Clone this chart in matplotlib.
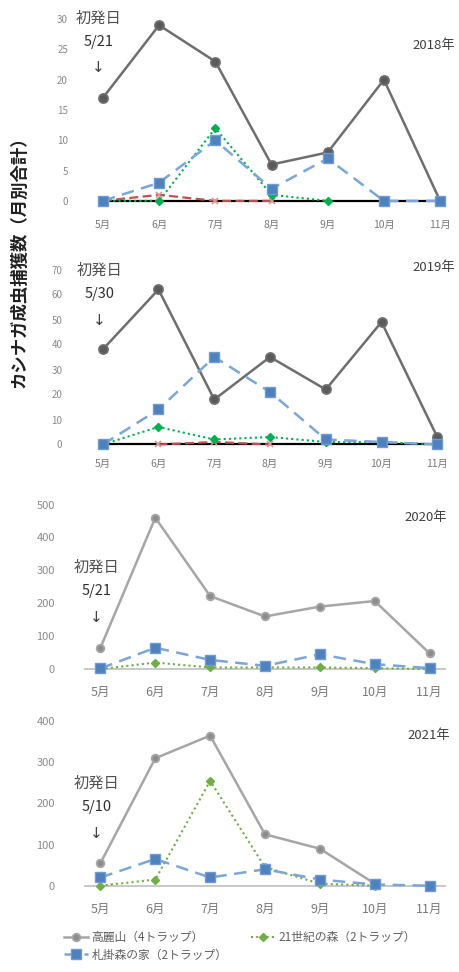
import numpy as np
import matplotlib.pyplot as plt

plt.rcParams['font.family'] = ['Noto Sans CJK JP', 'DejaVu Sans']

months = ['5月', '6月', '7月', '8月', '9月', '10月', '11月']
years = ['2018年', '2019年', '2020年', '2021年']
first_dates = ['5/21', '5/30', '5/21', '5/10']

# monthly totals per site
koraisan = [
    [17, 29, 23, 6, 8, 20, 0],
    [38, 62, 18, 35, 22, 49, 3],
    [65, 460, 222, 160, 190, 207, 48],
    [55, 310, 365, 125, 90, 5, np.nan],
]
mori21 = [
    [0, 0, 12, 1, 0, np.nan, np.nan],
    [0, 7, 2, 3, 1, 1, 0],
    [0, 20, 5, 5, 5, 3, 0],
    [0, 15, 255, 45, 5, 0, np.nan],
]
fudakake = [
    [0, 3, 10, 2, 7, 0, 0],
    [0, 14, 35, 21, 2, 1, 0],
    [2, 65, 28, 10, 45, 15, 3],
    [20, 65, 20, 40, 15, 3, 0],
]
# other traps shown only in 2018/2019
other_red = [
    [0, 1, 0, 0, np.nan, np.nan, np.nan],
    [np.nan, 0, 1, 0, np.nan, np.nan, np.nan],
]
other_black = [
    [0, 0, 0, 0, 0, 0, 0],
    [0, 0, 0, 0, 0, 0, 0],
]

W, H = 460, 972
fig = plt.figure(figsize=(W / 100, H / 100), dpi=100)


def px_axes(left, top, right, bottom):
    return fig.add_axes([left / W, 1 - bottom / H, (right - left) / W, (bottom - top) / H])


# (left, top, right, bottom) in pixels, ylim, yticks, y tick pad, tick font sizes
panels = [
    ((86, 7, 457, 213), (-2, 32), np.arange(0, 31, 5), 13, 7, 7.5),
    ((86, 257, 454, 452), (-3, 75), np.arange(0, 71, 10), 17, 7, 7.5),
    ((84, 498, 446, 679), (-30, 520), np.arange(0, 501, 100), 21, 8, 9),
    ((84, 713, 446, 896), (-25, 420), np.arange(0, 401, 100), 21, 8, 9),
]
year_pos = [(455, 45), (455, 268), (447, 517), (450, 735)]
note_pos = [(99, 18), (100, 270), (97, 567), (97, 783)]

x = np.arange(len(months))
for i, (box, ylim, yt, ypad, yfs, xfs) in enumerate(panels):
    ax = px_axes(*box)
    early = i < 2
    grey = '#6e6e6e' if early else '#a6a6a6'
    face = '#5a5a5a' if early else '#8c8c8c'
    green = '#00b050' if early else '#70ad47'

    if early:
        ax.plot(x, other_black[i], color='black', lw=1.6, zorder=2)
        ax.plot(x, other_red[i], color='#c0504d', lw=1.6, ls=(0, (4, 2)),
                marker='x', ms=5, mec='#d99694', mew=1.2, zorder=2)
    else:
        ax.axhline(0, color='#bfbfbf', lw=1.2, zorder=1)

    ax.plot(x, koraisan[i], color=grey, lw=1.8, marker='o', ms=6.5 if early else 5.5,
            mfc=face, mec=grey, mew=1.3, zorder=3, label='高麗山（4トラップ）')
    ax.plot(x, mori21[i], color=green, lw=1.5, ls=(0, (1, 1.5)), marker='D', ms=4.5,
            mfc=green, mec=green, zorder=4, label='21世紀の森（2トラップ）')
    ax.plot(x, fudakake[i], color='#7aa6d8', lw=1.8, ls=(0, (5, 3)), marker='s', ms=7,
            mfc='#4f81bd', mec='#6f9bd3', zorder=5, label='札掛森の家（2トラップ）')

    ax.set_xlim(-0.3, 6.3)
    ax.set_ylim(*ylim)
    ax.set_yticks(yt)
    ax.set_xticks(x)
    ax.set_xticklabels(months)
    ax.tick_params(axis='y', length=0, labelsize=yfs, labelcolor='#8a8a8a', pad=ypad)
    ax.tick_params(axis='x', length=0, labelsize=xfs, labelcolor='#7a7a7a', pad=5)
    for s in ax.spines.values():
        s.set_visible(False)

    fig.text(year_pos[i][0] / W, 1 - year_pos[i][1] / H, years[i], ha='right', va='center',
             fontsize=9.5, color='#404040')
    nx, ny = note_pos[i]
    fig.text(nx / W, 1 - ny / H, '初発日', ha='center', va='center', fontsize=11, color='#505050')
    fig.text(nx / W, 1 - (ny + 24) / H, first_dates[i], ha='center', va='center',
             fontsize=10.5, color='#303030')
    fig.text((nx - 1) / W, 1 - (ny + 50) / H, '↓', ha='center', va='center',
             fontsize=11, color='#404040', family=['DejaVu Sans'])

    if i == 3:
        handles, labels = ax.get_legend_handles_labels()

fig.text(20 / W, 1 - 258 / H, 'カシナガ成虫捕獲数（月別合計）', rotation=90,
         ha='center', va='center', fontsize=12.5, color='#202020', fontweight='bold')

# two columns: first column holds 高麗山 and 札掛森の家, second 21世紀の森
order = [0, 2, 1]
fig.legend([handles[k] for k in order], [labels[k] for k in order], loc='center',
           bbox_to_anchor=(240 / W, 1 - 946 / H), ncol=2, frameon=False, fontsize=8.5,
           labelcolor='#606060', handlelength=2.0, columnspacing=2.0, handletextpad=0.3,
           labelspacing=0.4)

fig.savefig('out.png', dpi=100)
